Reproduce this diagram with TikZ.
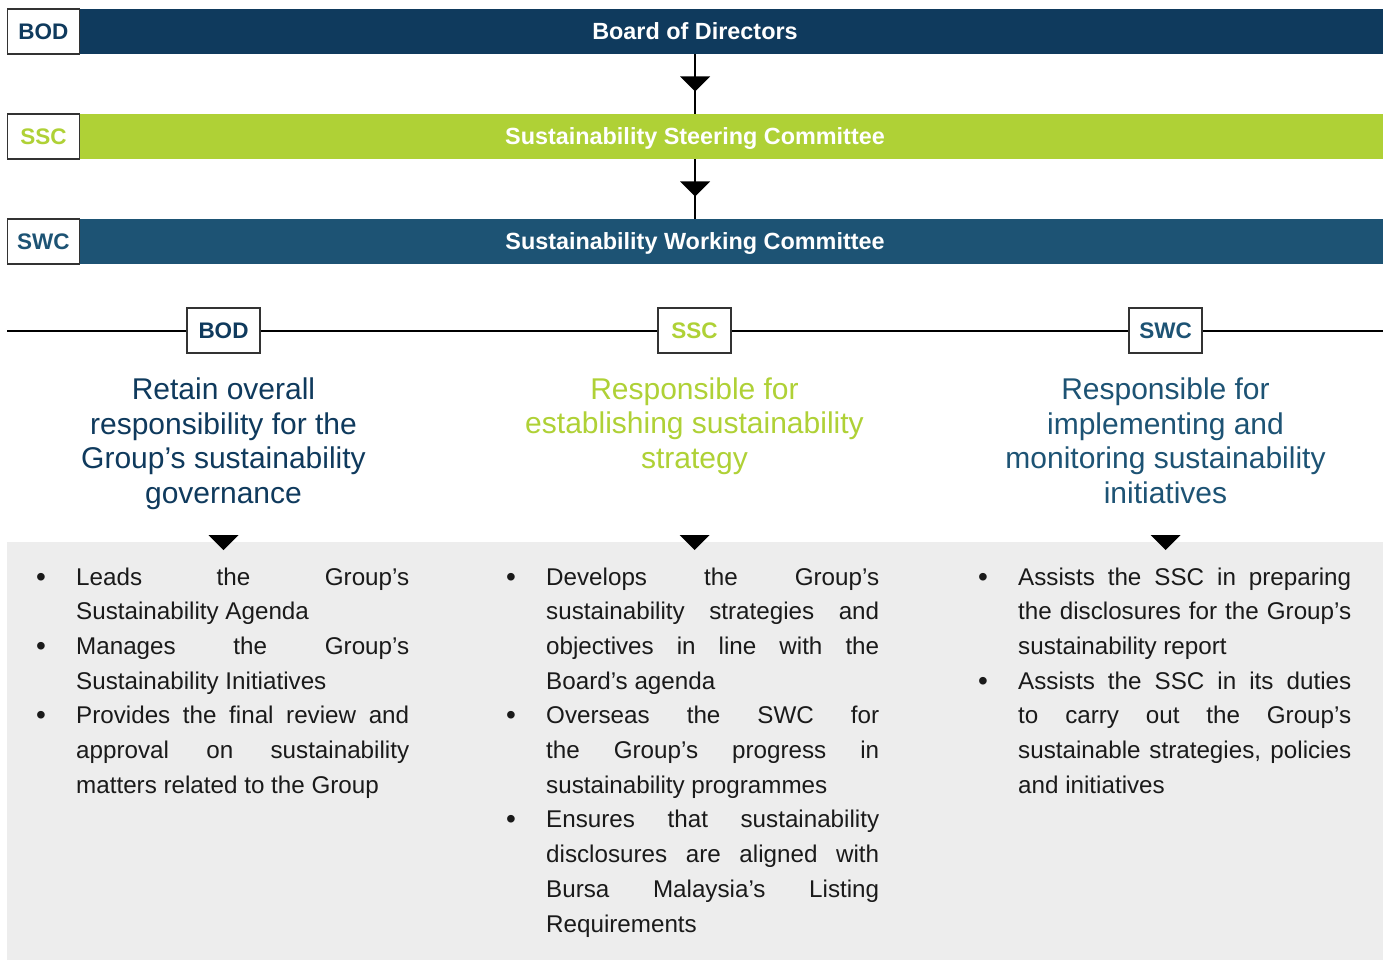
\documentclass[tikz,border=0pt]{standalone}
\usepackage{fontspec}
\setmainfont{Liberation Sans}
\usepackage{tikz}
\usetikzlibrary{positioning, calc}

\definecolor{bodblue}{HTML}{0F3A5D}
\definecolor{sscgreen}{HTML}{AFD136}
\definecolor{swcblue}{HTML}{1D5374}
\definecolor{panelgrey}{HTML}{EDEDED}
\definecolor{inktext}{HTML}{1A1A1A}

% justified block of duties, baseline on its first line
\newcommand{\dutylist}[1]{\parbox[t]{374pt}{\tolerance=10000 \hyphenpenalty=10000 #1}}
% one bulleted duty, hanging under its first word
\newcommand{\duty}[1]{\par\hangindent=41pt\noindent
    \hbox to 41pt{\hskip1pt\raisebox{-1pt}{\fontsize{28}{28}\selectfont\textbullet}\hss}#1\par}
% downward wedge centred on a point
\newcommand{\downtip}[1]{\fill (#1) ++(-15,-7.5) -- ++(30,0) -- ++(-15,15) -- cycle;}

\begin{document}
\begin{tikzpicture}[x=1pt, y=-1pt,
    bar/.style={minimum width=1376pt, minimum height=45pt, inner sep=0pt, text=white,
        text height=17pt, text depth=0pt, font=\fontsize{23.4}{28}\selectfont\bfseries},
    tag/.style={draw=black!80, line width=1.3pt, fill=white, minimum width=72pt,
        minimum height=45pt, inner sep=0pt, font=\fontsize{22.5}{27}\selectfont\bfseries},
    link/.style={line width=1.5pt},
    rail/.style={line width=1.3pt},
    head/.style={align=center, anchor=base, inner sep=0pt, font=\fontsize{30}{34.7}\selectfont},
    duties/.style={anchor=base west, inner sep=0pt, text=inktext,
        font=\fontsize{24.2}{34.7}\selectfont}]
    \useasboundingbox (0,0) rectangle (1390,960);
    \fill[white] (0,0) rectangle (1390,960);

    % committee bars
    \node[bar, fill=bodblue] (bod) at (695,31.5) {Board of Directors};
    \node[tag, text=bodblue, anchor=west] (bodtag) at (bod.west) {BOD};
    \node[bar, fill=sscgreen] (ssc) at (695,136.5) {Sustainability Steering Committee};
    \node[tag, text=sscgreen, anchor=west] (ssctag) at (ssc.west) {SSC};
    \node[bar, fill=swcblue] (swc) at (695,241.5) {Sustainability Working Committee};
    \node[tag, text=swcblue, anchor=west] (swctag) at (swc.west) {SWC};

    \draw[link] (bod) -- (ssc);
    \downtip{$(bod.south)!0.5!(ssc.north)$}
    \draw[link] (ssc) -- (swc);
    \downtip{$(ssc.south)!0.5!(swc.north)$}

    % roles
    \coordinate (railL) at (7,331);
    \coordinate (railR) at (1383,331);
    \draw[rail] (railL) -- (railR);
    \node[tag, text=bodblue, minimum width=73pt] (bodrole) at (223.5,330.5) {BOD};
    \node[tag, text=sscgreen, minimum width=73pt] (sscrole) at (694.5,330.5) {SSC};
    \node[tag, text=swcblue, minimum width=73pt] (swcrole) at (1165.5,330.5) {SWC};

    % base sits on the last line
    \node[head, text=bodblue] (bodhead) at (223.5,503.5)
        {Retain overall\\responsibility for the\\Group's sustainability\\governance};
    \node[head, text=sscgreen] (sschead) at (694.5,468.5)
        {Responsible for\\establishing sustainability\\strategy};
    \node[head, text=swcblue] (swchead) at (1165.5,503.5)
        {Responsible for\\implementing and\\monitoring sustainability\\initiatives};

    % duties
    \fill[panelgrey] (7,542) rectangle (1383,960);
    \coordinate (shelf) at (0,542.5);
    \downtip{bodrole |- shelf}
    \downtip{sscrole |- shelf}
    \downtip{swcrole |- shelf}

    \node[duties] (boddo) at (35,585) {\dutylist{%
        \duty{Leads the Group's\linebreak Sustainability Agenda}%
        \duty{Manages the Group's\linebreak Sustainability Initiatives}%
        \duty{Provides the final review and\linebreak approval on sustainability\linebreak matters related to the Group}}};
    \node[duties] (sscdo) at (505,585) {\dutylist{%
        \duty{Develops the Group's\linebreak sustainability strategies and\linebreak objectives in line with the\linebreak Board's agenda}%
        \duty{Overseas the SWC for\linebreak the Group's progress in\linebreak sustainability programmes}%
        \duty{Ensures that sustainability\linebreak disclosures are aligned with\linebreak Bursa Malaysia's Listing\linebreak Requirements}}};
    \node[duties] (swcdo) at (977,585) {\dutylist{%
        \duty{Assists the SSC in preparing\linebreak the disclosures for the Group's\linebreak sustainability report}%
        \duty{Assists the SSC in its duties\linebreak to carry out the Group's\linebreak sustainable strategies, policies\linebreak and initiatives}}};
\end{tikzpicture}
\end{document}
